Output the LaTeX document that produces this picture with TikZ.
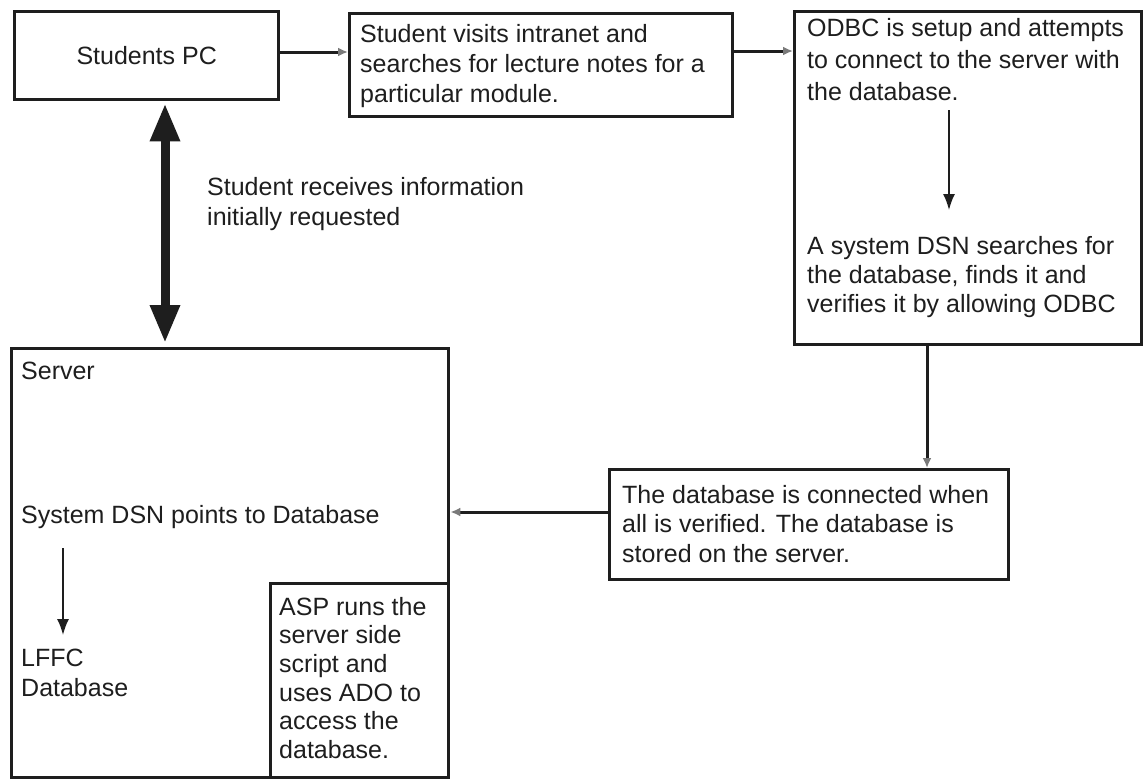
\documentclass[tikz,border=0pt]{standalone}
\usepackage{fontspec}
\setmainfont{Liberation Sans}
\usetikzlibrary{arrows.meta}
\definecolor{ink}{HTML}{1E1E1E}
\definecolor{tipgray}{HTML}{7A7A7A}
\begin{document}
\begin{tikzpicture}[x=1pt,y=-1pt,
  box/.style={draw=ink, line width=3.4pt, inner sep=0pt, anchor=north west},
  txt/.style={anchor=north west, inner sep=0pt, align=left, text=ink,
    font=\fontsize{25}{30}\selectfont},
  flow/.style={draw=ink, line width=3pt, -{Latex[length=10pt,width=9pt,color=tipgray]}},
  inner/.style={draw=ink, line width=1.6pt, -{Latex[length=16pt,width=12pt]}},
  both/.style={draw=ink, line width=9pt,
    {Triangle[length=38pt,width=28pt]}-{Triangle[length=38pt,width=28pt]}},
]
\fill[white] (0,0) rectangle (1144,779);
\useasboundingbox (0,0) rectangle (1144,779);

% boxes
\node[box, minimum width=264pt, minimum height=88pt] (pc) at (13,10) {};
\node[box, minimum width=383pt, minimum height=103pt] (visit) at (348,12) {};
\node[box, minimum width=347pt, minimum height=333pt] (odbc) at (793,10) {};
\node[box, minimum width=399pt, minimum height=110pt] (conn) at (608,468) {};
\node[box, minimum width=437pt, minimum height=429pt] (server) at (10,347) {};
\node[box, minimum width=178pt, minimum height=194pt] (asp) at (269,582) {};

% texts (placed by the top of their first line)
\node[txt, anchor=center] (tpc) at (pc.center) {Students PC};
\node[txt] (tvisit) at (360,24) {Student visits intranet and\\searches for lecture notes for a\\particular module.};
\node[txt, font=\fontsize{25}{32}\selectfont] (todbc) at (807,18) {ODBC is setup and attempts\\to connect to the server with\\the database.};
\node[txt, font=\fontsize{25}{29}\selectfont] (tdsn) at (807,236) {A system DSN searches for\\the database, finds it and\\verifies it by allowing ODBC};
\node[txt] (trecv) at (207,177) {Student receives information\\initially requested};
\node[txt] (tserver) at (21,362) {Server};
\node[txt] (tpoint) at (21,505) {System DSN points to Database};
\node[txt] (tlffc) at (21,649) {LFFC\\Database};
\node[txt, font=\fontsize{25}{28.6}\selectfont] (tasp) at (279,597) {ASP runs the\\server side\\script and\\uses ADO to\\access the\\database.};
\node[txt, font=\fontsize{25}{29.5}\selectfont] (tconn) at (622,485) {The database is connected when\\all is verified. The database is\\stored on the server.};

% connector guides
\coordinate (r1) at (0,52);
\coordinate (r2) at (0,51);
\coordinate (c1) at (927,0);
\coordinate (r3) at (0,512);
\coordinate (c2) at (165,0);
\coordinate (a1) at (949,110);
\coordinate (a2) at (949,210);
\coordinate (b1) at (63,548);
\coordinate (b2) at (63,635);

% connectors
\draw[flow] (pc.east |- r1) -- (visit.west |- r1);
\draw[flow] (visit.east |- r2) -- (odbc.west |- r2);
\draw[flow] (odbc.south -| c1) -- (conn.north -| c1);
\draw[flow] (conn.west |- r3) -- (server.east |- r3);
\draw[both] ([yshift=-2pt]pc.south -| c2) -- ([yshift=4pt]server.north -| c2);
\draw[inner] (a1) -- (a2);
\draw[inner] (b1) -- (b2);
\end{tikzpicture}
\end{document}
